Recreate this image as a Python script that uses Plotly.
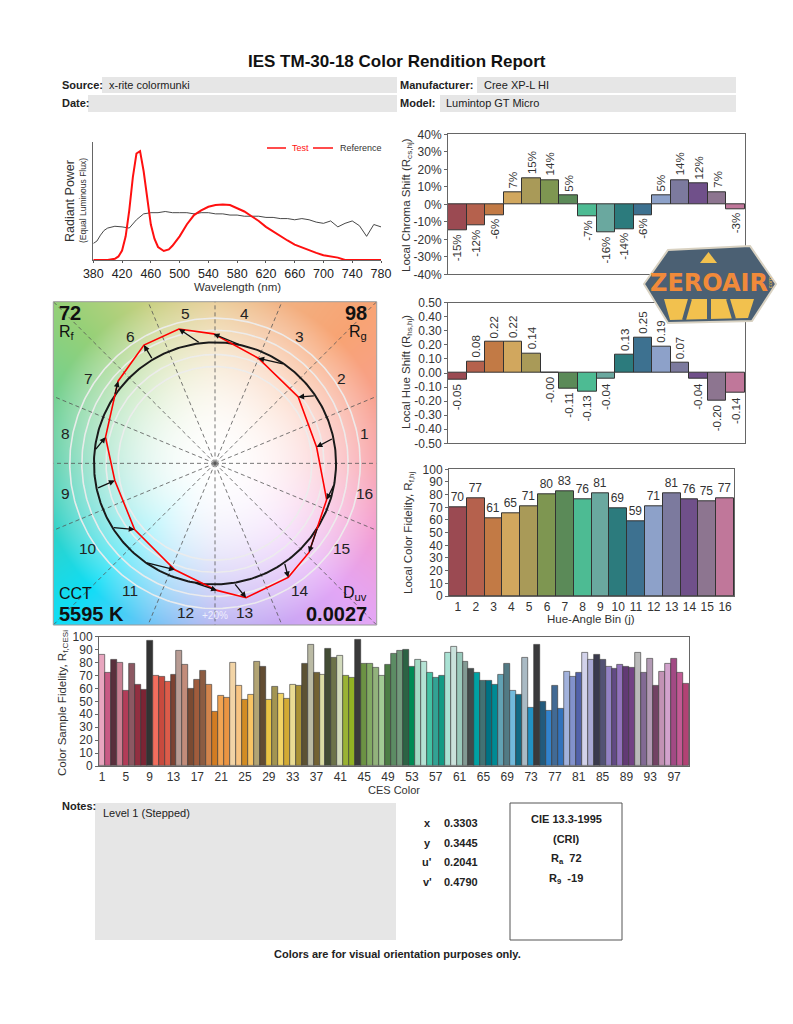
import base64
import struct
import zlib
import numpy as np
import plotly.graph_objects as go

W, H = 793, 1024
FONT = "Liberation Sans, Arial, Helvetica, sans-serif"
NARROW = "Liberation Sans Narrow, Liberation Sans, Arial, sans-serif"
TXT = "#222222"


def px(x):
    return x / W


def py(y):
    return 1 - y / H


# ---------------- data ----------------
test_wl = [380, 400, 410, 415, 420, 425, 430, 435, 440, 445, 450, 455, 460, 465, 470, 478, 485, 490,
           500, 510, 520, 530, 540, 550, 560, 570, 580, 590, 600, 610, 620, 630, 640, 650, 660, 670,
           680, 690, 700, 710, 720, 730, 780]
test_spd = [0, 0, 0.01, 0.03, 0.08, 0.2, 0.42, 0.7, 0.9, 0.92, 0.75, 0.5, 0.3, 0.18, 0.11, 0.076, 0.09, 0.12,
            0.2, 0.3, 0.38, 0.42, 0.45, 0.465, 0.47, 0.465, 0.44, 0.41, 0.37, 0.33, 0.28, 0.24, 0.2, 0.165, 0.13, 0.105,
            0.08, 0.06, 0.04, 0.03, 0.02, 0.0, 0.0]
ref_wl = [380, 385, 390, 395, 400, 410, 420, 430, 440, 450, 460, 470, 480, 490, 500, 510, 520, 530, 540, 550,
          560, 570, 580, 590, 600, 610, 620, 630, 640, 650, 660, 670, 680, 690, 700, 710, 720, 730, 740, 750,
          760, 770, 780]
ref_spd = [0.14, 0.16, 0.21, 0.25, 0.27, 0.285, 0.28, 0.27, 0.34, 0.39, 0.40, 0.40, 0.41, 0.40, 0.40, 0.40, 0.39,
           0.40, 0.40, 0.39, 0.39, 0.38, 0.38, 0.37, 0.37, 0.37, 0.36, 0.36, 0.35, 0.35, 0.34, 0.35, 0.34, 0.32,
           0.31, 0.33, 0.28, 0.31, 0.33, 0.29, 0.20, 0.30, 0.28]
wl_ticks = [380, 420, 460, 500, 540, 580, 620, 660, 700, 740, 780]

bins = list(range(1, 17))
chroma_shift = [-15, -12, -6, 7, 15, 14, 5, -7, -16, -14, -6, 5, 14, 12, 7, -3]  # percent
hue_shift = [-0.05, 0.08, 0.22, 0.22, 0.14, -0.00, -0.11, -0.13, -0.04, 0.13, 0.25, 0.19, 0.07, -0.04, -0.20, -0.14]
fidelity_bin = [70, 77, 61, 65, 71, 80, 83, 76, 81, 69, 59, 71, 81, 76, 75, 77]
ref_hue_deg = [12, 34, 55, 78, 97, 121, 146, 174, 192, 212, 235, 260, 279, 305, 328, 350]
bin_colors = ["#9b4a52", "#b5614d", "#c27a45", "#d1a75e", "#a99a58", "#7e9651", "#5b8a58", "#4dbb93",
              "#6aa89f", "#2c7b7d", "#3d7190", "#8da1c9", "#7c7a9e", "#70508a", "#8d7590", "#c0779a"]

Rf, Rg, CCT, Duv = 72, 98, 5595, 0.0027

ces_index = list(range(1, 100))
ces_fidelity = [86, 72, 82, 80, 58, 79, 63, 59, 97, 70, 69, 65, 71, 89, 78, 60, 67, 74, 63, 42,
                54, 53, 80, 62, 51, 55, 81, 77, 51, 61, 56, 52, 63, 62, 79, 94, 72, 71, 91, 84,
                85, 70, 68, 98, 79, 79, 76, 70, 78, 87, 89, 90, 77, 82, 81, 72, 68, 70, 88, 92,
                88, 81, 75, 72, 66, 66, 63, 71, 79, 58, 55, 84, 45, 94, 50, 43, 62, 44, 73, 69,
                72, 88, 82, 86, 82, 77, 75, 78, 77, 76, 88, 72, 83, 62, 73, 79, 83, 72, 64]
ces_colors = ["#e8a6bf", "#c85a84", "#5a2f3c", "#c98093", "#b23c58", "#8c5862", "#922f40", "#7c2434", "#333333",
              "#f26e5e", "#c84a3e", "#dc5c4a", "#7c4232", "#b89c94", "#c28c7a", "#7a4a32", "#a05c3c", "#8c5c42",
              "#d2844c", "#d27c22", "#f2a452", "#ea9442", "#f2d4a6", "#f8c482", "#d28c24", "#f8c464", "#b2a474",
              "#624c32", "#eac444", "#a29452", "#f2d466", "#d2aa34", "#eadc94", "#aa9234", "#5c5234", "#babaa4",
              "#726234", "#dadca4", "#424c34", "#6c724a", "#d2dabc", "#9ab234", "#92b224", "#3a3a3a", "#6c9244",
              "#82aa64", "#92b27c", "#a2ca94", "#4c7c44", "#5c8c64", "#729a7c", "#2c6244", "#008a54", "#a4dac4",
              "#b4e2d4", "#44c2a4", "#32a294", "#129a84", "#aae2d4", "#cae2dc", "#9acabc", "#829a94", "#424a4a",
              "#00a2a4", "#427274", "#007284", "#008a94", "#62a2b4", "#527a84", "#72badc", "#126a84", "#aabac4",
              "#2292c4", "#3a3a3c", "#225a7c", "#3282cc", "#426a94", "#3272bc", "#a2b2dc", "#8292cc", "#5262aa",
              "#d2d2ea", "#aaaad4", "#3a3a4c", "#525274", "#9282c4", "#624a84", "#9272bc", "#623a74", "#724284",
              "#bababa", "#826a94", "#b29ab4", "#724264", "#c292b4", "#d2a2cc", "#a24a84", "#c25a94", "#b24274"]
ces_ticks = list(range(1, 100, 4))

xyuv_labels = ["x", "y", "u'", "v'"]
xyuv_values = ["0.3303", "0.3445", "0.2041", "0.4790"]
Ra, R9 = 72, -19

# ---------------- figure ----------------
fig = go.Figure()
ann = []
shapes = []


def A(text, x, y, xref="paper", yref="paper", xanchor="center", yanchor="middle", size=11.5,
      color="#333", family=FONT, **kw):
    d = dict(text=text, x=x, y=y, xref=xref, yref=yref, xanchor=xanchor, yanchor=yanchor,
             showarrow=False, font=dict(size=size, color=color, family=family))
    d.update(kw)
    ann.append(d)


# Spectrum
fig.add_trace(go.Scatter(x=ref_wl, y=ref_spd, mode="lines", line=dict(color="#333333", width=0.9),
                         xaxis="x", yaxis="y", hoverinfo="skip"))
fig.add_trace(go.Scatter(x=test_wl, y=test_spd, mode="lines", line=dict(color="#ff1010", width=2),
                         xaxis="x", yaxis="y", hoverinfo="skip"))
shapes.append(dict(type="line", xref="paper", yref="paper", x0=px(267), x1=px(286), y0=py(148), y1=py(148),
                   line=dict(color="#ff1010", width=1.5)))
shapes.append(dict(type="line", xref="paper", yref="paper", x0=px(313), x1=px(333), y0=py(148), y1=py(148),
                   line=dict(color="#ff1010", width=1.5)))
A("Test", px(290), py(148), xanchor="left", size=9, color="#ff1010")
A("Reference", px(338), py(148), xanchor="left", size=9)
A("Radiant Power", px(70), py(201), size=12.5, textangle=-90)
A("(Equal Luminous Flux)", px(83), py(201), size=8.5, textangle=-90)
A("Wavelength (nm)", px(237), py(287))

# Chroma shift
fig.add_trace(go.Bar(x=bins, y=[c / 100 for c in chroma_shift], width=1,
                     marker=dict(color=bin_colors, line=dict(color="#333", width=1)),
                     xaxis="x2", yaxis="y2", hoverinfo="skip"))
for j, v in zip(bins, chroma_shift):
    A(f"{v}%", j, v / 100, xref="x2", yref="y2", textangle=-90,
      yanchor="bottom" if v > 0 else "top", yshift=2 if v > 0 else -2)
A("Local Chroma Shift (R<sub>cs,hj</sub>)", px(407), py(205), textangle=-90)

# Hue shift
fig.add_trace(go.Bar(x=bins, y=hue_shift, width=1,
                     marker=dict(color=bin_colors, line=dict(color="#333", width=1)),
                     xaxis="x3", yaxis="y3", hoverinfo="skip"))
for j, v in zip(bins, hue_shift):
    pos = v > 0
    A(f"{v:.2f}", j, v, xref="x3", yref="y3", textangle=-90,
      yanchor="bottom" if pos else "top", yshift=2 if pos else -2)
A("Local Hue Shift (R<sub>hs,hj</sub>)", px(407), py(372), textangle=-90)

# Local fidelity
fig.add_trace(go.Bar(x=bins, y=fidelity_bin, width=1, text=[str(v) for v in fidelity_bin],
                     textposition="outside", cliponaxis=False, constraintext="none",
                     textfont=dict(size=12, color="#333", family=FONT),
                     marker=dict(color=bin_colors, line=dict(color="#333", width=1)),
                     xaxis="x4", yaxis="y4", hoverinfo="skip"))
A("Local Color Fidelity, R<sub>f,hj</sub>", px(409), py(533), textangle=-90)
A("Hue-Angle Bin (j)", px(591), py(619))

# ---------------- Color vector graphic ----------------
R = 1.336
n = 324
c = (np.arange(n) + 0.5) / n * 2 * R - R
X, Y = np.meshgrid(c, c[::-1])
ang = np.degrees(np.arctan2(Y, X)) % 360
rad = np.hypot(X, Y)
anchor_deg = [0, 22.5, 45, 67.5, 90, 112.5, 135, 157.5, 180, 202.5, 225, 247.5, 270, 292.5, 315, 337.5, 360]
anchor_hex = ["#f89aa4", "#f8a08c", "#f8a474", "#f2b282", "#e8c88c", "#c8d080", "#96d078", "#72d090",
              "#50cca4", "#30d2c8", "#10def6", "#6cc4f6", "#aeaaf0", "#c8a6f4", "#e4a6f6", "#f49ed2", "#f89aa4"]
anc = np.array([[int(h[i:i + 2], 16) for i in (1, 3, 5)] for h in anchor_hex], dtype=float)
col = np.stack([np.interp(ang, anchor_deg, anc[:, k]) for k in range(3)], axis=-1)
wgt = np.clip((rad / 1.45) ** 2, 0, 1)[..., None]
rgb = np.clip(255 * (1 - wgt) + col * wgt, 0, 255).astype(np.uint8)


def png_data_uri(arr):
    h, w, _ = arr.shape
    raw = b"".join(b"\x00" + np.ascontiguousarray(arr[i]).tobytes() for i in range(h))

    def chunk(tag, data):
        return struct.pack(">I", len(data)) + tag + data + struct.pack(">I", zlib.crc32(tag + data) & 0xffffffff)

    png = (b"\x89PNG\r\n\x1a\n" + chunk(b"IHDR", struct.pack(">IIBBBBB", w, h, 8, 2, 0, 0, 0)) +
           chunk(b"IDAT", zlib.compress(raw, 9)) + chunk(b"IEND", b""))
    return "data:image/png;base64," + base64.b64encode(png).decode()


images = [dict(source=png_data_uri(rgb), xref="x5", yref="y5", x=-R, y=R, sizex=2 * R, sizey=2 * R,
               xanchor="left", yanchor="top", sizing="stretch", layer="below")]

t = np.linspace(0, 2 * np.pi, 361)
for rr in [0.8, 0.9, 1.1, 1.2]:
    fig.add_trace(go.Scatter(x=rr * np.cos(t), y=rr * np.sin(t), mode="lines",
                             line=dict(color="rgba(236,236,236,0.95)", width=1.6),
                             xaxis="x5", yaxis="y5", hoverinfo="skip"))
for k in range(16):
    a = np.radians(k * 22.5)
    fig.add_trace(go.Scatter(x=[0, 1.9 * np.cos(a)], y=[0, 1.9 * np.sin(a)], mode="lines",
                             line=dict(color="#555555", width=0.8, dash="4px,3px"),
                             xaxis="x5", yaxis="y5", hoverinfo="skip"))
fig.add_trace(go.Scatter(x=np.cos(t), y=np.sin(t), mode="lines", line=dict(color="#1a1a1a", width=2),
                         xaxis="x5", yaxis="y5", hoverinfo="skip"))

ref_pts = []
test_pts = []
for hd, cs, hs in zip(ref_hue_deg, chroma_shift, hue_shift):
    a = np.radians(hd)
    ref_pts.append((np.cos(a), np.sin(a)))
    r2 = 1 + cs / 100
    test_pts.append((r2 * np.cos(a + hs), r2 * np.sin(a + hs)))
tx = [p[0] for p in test_pts] + [test_pts[0][0]]
ty = [p[1] for p in test_pts] + [test_pts[0][1]]
fig.add_trace(go.Scatter(x=tx, y=ty, mode="lines", line=dict(color="#ff0000", width=1.6),
                         xaxis="x5", yaxis="y5", hoverinfo="skip"))
for (rx, ry), (qx, qy) in zip(ref_pts, test_pts):
    ann.append(dict(x=qx, y=qy, ax=rx, ay=ry, xref="x5", yref="y5", axref="x5", ayref="y5", text="",
                    showarrow=True, arrowhead=2, arrowsize=0.9, arrowwidth=1.3, arrowcolor="#111", standoff=0))
for j in bins:
    a = np.radians((j - 0.5) * 22.5)
    A(str(j), 1.26 * np.cos(a), 1.26 * np.sin(a), xref="x5", yref="y5", size=15.5, color="#222")
A("+20%", 0, -1.255, xref="x5", yref="y5", size=10, color="rgba(255,255,255,0.75)")
shapes.append(dict(type="rect", xref="paper", yref="paper", x0=px(53.3), x1=px(376.7), y0=py(625), y1=py(301.7),
                   line=dict(color="#9a9a9a", width=1), fillcolor="rgba(0,0,0,0)"))
corner = [
    (f"<b>{Rf}</b>", 57, 313, "left", 20),
    ("R<sub>f</sub>", 57, 332, "left", 16),
    (f"<b>{Rg}</b>", 369, 313, "right", 20),
    ("R<sub>g</sub>", 369, 332, "right", 16),
    ("CCT", 57, 593, "left", 16),
    (f"<b>{CCT} K</b>", 57, 614, "left", 20),
    ("D<sub>uv</sub>", 369, 593, "right", 16),
    (f"<b>{Duv:.4f}</b>", 369, 614, "right", 20),
]
for txt, x0, y0, xa, sz in corner:
    A(txt, px(x0), py(y0), xanchor=xa, size=sz, color="#111")

# ---------------- CES fidelity ----------------
fig.add_trace(go.Bar(x=ces_index, y=ces_fidelity, width=1,
                     marker=dict(color=ces_colors, line=dict(color="#333", width=0.6)),
                     xaxis="x6", yaxis="y6", hoverinfo="skip"))
A("Color Sample Fidelity, R<sub>f,CESi</sub>", px(63), py(703), textangle=-90)
A("CES Color", px(394), py(790), size=11)

# ---------------- header ----------------
A("<b>IES TM-30-18 Color Rendition Report</b>", px(397), py(61), size=17, color="#111", family=NARROW)
for x0, x1, y0, y1 in [(102, 397, 77, 93), (477, 736, 77, 93), (88, 397, 95, 112), (440, 736, 95, 112)]:
    shapes.append(dict(type="rect", xref="paper", yref="paper", x0=px(x0), x1=px(x1), y0=py(y1), y1=py(y0),
                       line=dict(width=0), fillcolor="#e6e6e6", layer="below"))
head = [("<b>Source:</b>", 60, 85), ("x-rite colormunki", 107, 85), ("<b>Manufacturer:</b>", 398, 85),
        ("Cree XP-L HI", 482, 85), ("<b>Date:</b>", 60, 103), ("<b>Model:</b>", 398, 103),
        ("Lumintop GT Micro", 444, 103)]
for txt, x0, y0 in head:
    A(txt, px(x0), py(y0), xanchor="left", size=11, color="#222", family=NARROW)

# ---------------- bottom ----------------
shapes.append(dict(type="rect", xref="paper", yref="paper", x0=px(95), x1=px(396), y0=py(940), y1=py(803),
                   line=dict(width=0), fillcolor="#e6e6e6", layer="below"))
shapes.append(dict(type="rect", xref="paper", yref="paper", x0=px(510), x1=px(622), y0=py(940), y1=py(803),
                   line=dict(width=1, color="#555"), fillcolor="rgba(0,0,0,0)"))
A("<b>Notes:</b>", px(60), py(806), xanchor="left", size=11, color="#222", family=NARROW)
A("Level 1 (Stepped)", px(101), py(813), xanchor="left", size=11, color="#222", family=NARROW)
for i, (lab, val) in enumerate(zip(xyuv_labels, xyuv_values)):
    yy = 823 + i * 19.7
    A(f"<b>{lab}</b>", px(427), py(yy), size=11, color="#222", family=NARROW)
    A(f"<b>{val}</b>", px(442), py(yy), xanchor="left", size=11, color="#222", family=NARROW)
for txt, yy in [("<b>CIE 13.3-1995</b>", 819), ("<b>(CRI)</b>", 839),
                (f"<b>R<sub>a</sub>  {Ra}</b>", 859), (f"<b>R<sub>9</sub>  {R9}</b>", 879)]:
    A(txt, px(566), py(yy), size=11, color="#222", family=NARROW)
A("<b>Colors are for visual orientation purposes only.</b>", px(397), py(954), size=11, color="#222",
  family=NARROW)


# ---------------- watermark logo ----------------
def path(pts):
    return "M" + " L".join(f"{px(a):.5f},{py(b):.5f}" for a, b in pts) + " Z"


shapes.append(dict(type="path", xref="paper", yref="paper",
                   path=path([(644, 284), (668, 250), (750, 246), (776, 284), (752, 321), (668, 323)]),
                   fillcolor="#4b6073", line=dict(color="#d9d2c2", width=2), layer="above"))
shapes.append(dict(type="path", xref="paper", yref="paper",
                   path=path([(664, 299), (754, 299), (748, 318), (670, 320)]),
                   fillcolor="#f2c14e", line=dict(width=0), layer="above"))
for a, b in [((690, 299), (684, 320)), ((709, 299), (709, 320)), ((728, 299), (734, 319))]:
    shapes.append(dict(type="line", xref="paper", yref="paper", x0=px(a[0]), y0=py(a[1]), x1=px(b[0]), y1=py(b[1]),
                       line=dict(color="#4b6073", width=4), layer="above"))
shapes.append(dict(type="path", xref="paper", yref="paper",
                   path=path([(700, 263), (717, 263), (708.5, 252)]),
                   fillcolor="#f2c14e", line=dict(width=0), layer="above"))
A("<b>ZEROAIR</b>", px(709), py(283), size=24, color="#f08a3a",
  family="DejaVu Sans, Liberation Sans, sans-serif")
A(".com", px(770), py(284), size=6, color="#f2c14e", textangle=-90)

# ---------------- axes ----------------
tickfont = dict(size=12, color="#333", family=FONT)
common = dict(showgrid=False, zeroline=False, showline=True, linecolor="#666", linewidth=1, automargin=False)

chroma_ticks = [-0.4, -0.3, -0.2, -0.1, 0, 0.1, 0.2, 0.3, 0.4]
hue_ticks = [-0.5, -0.4, -0.3, -0.2, -0.1, 0, 0.1, 0.2, 0.3, 0.4, 0.5]

fig.update_layout(
    template="none",
    width=W, height=H, margin=dict(l=0, r=0, t=0, b=0, pad=0, autoexpand=False),
    paper_bgcolor="white", plot_bgcolor="white", showlegend=False, bargap=0,
    font=dict(family=FONT, color=TXT, size=11),
    annotations=ann, shapes=shapes, images=images,
    xaxis=dict(domain=[px(93.3), px(381)], range=[380, 780], anchor="y", tickvals=wl_ticks,
               ticks="outside", ticklen=2, tickcolor="#555", tickfont=dict(size=12.5, color="#222", family=FONT),
               **common),
    yaxis=dict(domain=[py(260), py(141.7)], range=[0, 1], anchor="x", showticklabels=False, ticks="", **common),
    xaxis2=dict(domain=[px(448), px(745)], range=[0.5, 16.5], anchor="y2", showticklabels=False, ticks="",
                mirror=True, **common),
    yaxis2=dict(domain=[py(274.3), py(134.3)], range=[-0.4, 0.4], anchor="x2", tickvals=chroma_ticks,
                ticktext=[f"{round(v * 100)}%" for v in chroma_ticks], ticks="outside", ticklen=3,
                tickcolor="#666", tickfont=tickfont, mirror=True, **common),
    xaxis3=dict(domain=[px(448), px(745)], range=[0.5, 16.5], anchor="y3", showticklabels=False, ticks="",
                mirror=True, **common),
    yaxis3=dict(domain=[py(443.3), py(302.7)], range=[-0.5, 0.5], anchor="x3", tickvals=hue_ticks,
                ticktext=[f"{v:.2f}" for v in hue_ticks], ticks="outside", ticklen=3,
                tickcolor="#666", tickfont=tickfont, mirror=True, **common),
    xaxis4=dict(domain=[px(449), px(734)], range=[0.5, 16.5], anchor="y4", tickvals=bins, ticks="",
                tickfont=tickfont, mirror=True, **common),
    yaxis4=dict(domain=[py(596), py(469.3)], range=[0, 100], anchor="x4", dtick=10, ticks="outside", ticklen=3,
                tickcolor="#666", tickfont=tickfont, mirror=True, **common),
    xaxis5=dict(domain=[px(53.3), px(376.7)], range=[-R, R], anchor="y5", visible=False, showgrid=False,
                zeroline=False, automargin=False),
    yaxis5=dict(domain=[py(625), py(301.7)], range=[-R, R], anchor="x5", visible=False, showgrid=False,
                zeroline=False, automargin=False),
    xaxis6=dict(domain=[px(99), px(689)], range=[0.5, 99.5], anchor="y6", tickvals=ces_ticks, ticks="",
                ticklen=0, tickfont=tickfont, mirror=True, **common),
    yaxis6=dict(domain=[py(766), py(636.7)], range=[0, 100], anchor="x6", dtick=10, ticks="outside", ticklen=3,
                tickcolor="#666", tickfont=tickfont, mirror=True, **common),
)

fig.write_html("out.html", config={"displayModeBar": False},
               post_script="document.body.style.margin='0';")
